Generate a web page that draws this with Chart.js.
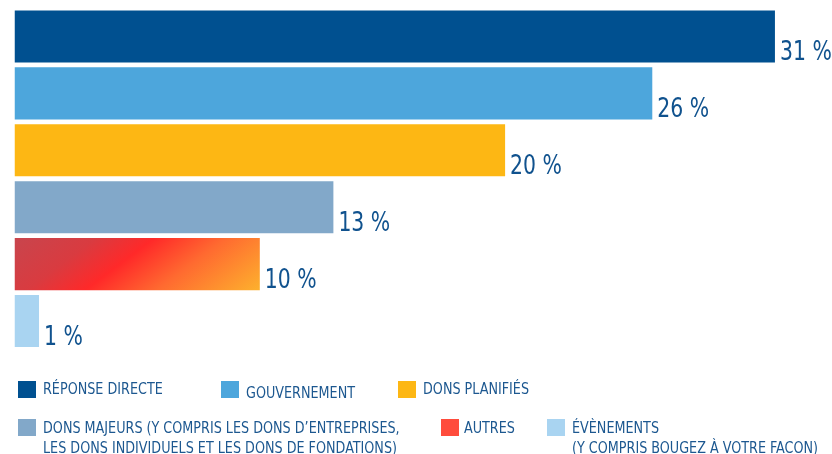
<!DOCTYPE html>
<html>
<head>
<meta charset="utf-8">
<script src="https://cdn.jsdelivr.net/npm/chart.js@4"></script>
<style>
  html, body { margin: 0; padding: 0; background: #fff; }
  #wrap { position: relative; width: 832px; height: 454px; }
  #legend { position: absolute; left: 0; top: 0; width: 832px; height: 454px; pointer-events: none; }
  .sw { position: absolute; width: 18px; height: 17px; }
  .lt { position: absolute; font-family: 'DejaVu Sans Condensed', sans-serif;
        font-size: 16.5px; line-height: 20px; color: #1d5890; white-space: nowrap;
        transform-origin: 0 0; transform: scaleX(0.86); }
</style>
</head>
<body>
<div id="wrap">
  <canvas id="chart"></canvas>
  <div id="legend"></div>
</div>
<script>
// data
const categories = ['Réponse directe', 'Gouvernement', 'Dons planifiés',
  'Dons majeurs (y compris les dons d’entreprises, les dons individuels et les dons de fondations)',
  'Autres', 'Évènements (y compris Bougez à votre facon)'];
const shares = [31, 26, 20, 13, 10, 1];
const valueLabels = ['31 %', '26 %', '20 %', '13 %', '10 %', '1 %'];
const barColors = ['#005090', '#4da6dc', '#fdb714', '#82a8c9', null, '#a9d4f1'];
const legendColors = ['#005090', '#4da6dc', '#fdb714', '#82a8c9', '#ff4c3c', '#a9d4f1'];
const legendLines = [
  ['RÉPONSE DIRECTE'],
  ['GOUVERNEMENT'],
  ['DONS PLANIFIÉS'],
  ['DONS MAJEURS (Y COMPRIS LES DONS D’ENTREPRISES,', 'LES DONS INDIVIDUELS ET LES DONS DE FONDATIONS)'],
  ['AUTRES'],
  ['ÉVÈNEMENTS', '(Y COMPRIS BOUGEZ À VOTRE FACON)']
];
const barPct = 0.915;

// diagonal gradient for the "Autres" bar, built from the scales
function barColor(ctx) {
  const i = ctx.dataIndex;
  if (barColors[i]) return barColors[i];
  const chart = ctx.chart;
  const xs = chart.scales.x, ys = chart.scales.y;
  if (!xs || !ys || !chart.chartArea) return '#ff4c3c';
  const x0 = xs.getPixelForValue(0);
  const w = xs.getPixelForValue(shares[i]) - x0;
  const h = Math.abs(ys.getPixelForValue(1) - ys.getPixelForValue(0)) * barPct;
  const top = ys.getPixelForValue(i) - h / 2;
  const g = chart.ctx.createLinearGradient(x0, top, x0 + w * 0.48, top + h * 3);
  g.addColorStop(0, '#c8454d');
  g.addColorStop(0.25, '#d93b40');
  g.addColorStop(0.43, '#ff2929');
  g.addColorStop(0.65, '#ff6a30');
  g.addColorStop(1, '#fdb82d');
  return g;
}

const valueLabelPlugin = {
  id: 'valueLabels',
  afterDatasetsDraw(chart) {
    const c = chart.ctx;
    const meta = chart.getDatasetMeta(0);
    c.save();
    c.font = '27px "DejaVu Sans Condensed", sans-serif';
    c.fillStyle = '#10528e';
    c.textAlign = 'left';
    c.textBaseline = 'alphabetic';
    meta.data.forEach((bar, i) => {
      c.save();
      c.translate(bar.x + 5, bar.y + bar.height / 2 - 2);
      c.scale(0.84, 1);
      c.fillText(valueLabels[i], 0, 0);
      c.restore();
    });
    c.restore();
  }
};

const canvas = document.getElementById('chart');
canvas.width = 832; canvas.height = 454;
new Chart(canvas, {
  type: 'bar',
  data: {
    labels: categories,
    datasets: [{
      data: shares,
      backgroundColor: barColor,
      borderWidth: 0,
      barPercentage: barPct,
      categoryPercentage: 1
    }]
  },
  options: {
    indexAxis: 'y',
    responsive: false,
    animation: false,
    layout: { padding: { left: 14.5, right: 8, top: 8, bottom: 104.5 } },
    plugins: { legend: { display: false }, tooltip: { enabled: false } },
    scales: {
      x: { min: 0, max: 33, display: false },
      y: { display: false }
    }
  },
  plugins: [valueLabelPlugin]
});

// legend
const legendPos = [
  { sx: 18, sy: 381, tx: 43, ty: 379 },
  { sx: 221, sy: 381, tx: 246, ty: 383 },
  { sx: 398, sy: 381, tx: 423, ty: 379 },
  { sx: 18, sy: 419, tx: 43, ty: 418 },
  { sx: 441, sy: 419, tx: 464, ty: 418 },
  { sx: 547, sy: 419, tx: 572, ty: 418 }
];
const legendEl = document.getElementById('legend');
legendPos.forEach((p, i) => {
  const sw = document.createElement('div');
  sw.className = 'sw';
  sw.style.left = p.sx + 'px';
  sw.style.top = p.sy + 'px';
  sw.style.background = legendColors[i];
  legendEl.appendChild(sw);
  const t = document.createElement('div');
  t.className = 'lt';
  t.style.left = p.tx + 'px';
  t.style.top = p.ty + 'px';
  t.innerHTML = legendLines[i].join('<br>');
  legendEl.appendChild(t);
});
</script>
</body>
</html>
